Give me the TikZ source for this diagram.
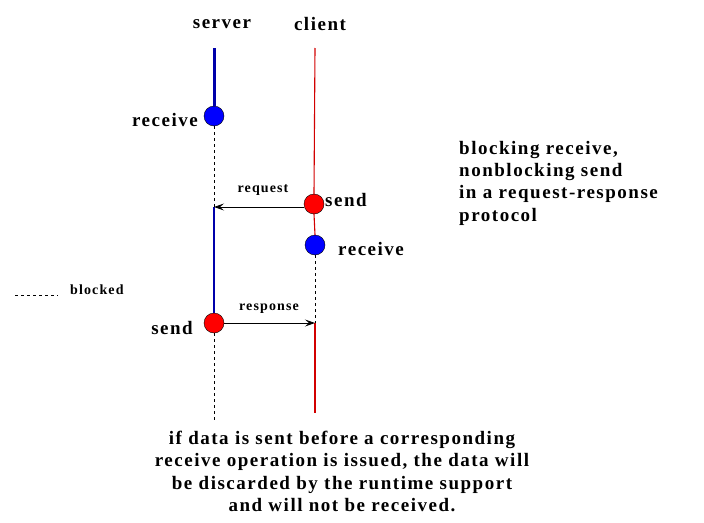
\documentclass[tikz,border=0pt]{standalone}
\usepackage{fontspec}
\setmainfont{Liberation Serif}
\newfontfamily\widefont[LetterSpace=8]{Liberation Serif}
\usetikzlibrary{arrows.meta}
\definecolor{clientred}{RGB}{210,0,0}
\definecolor{servblue}{RGB}{0,0,170}
\begin{document}
\begin{tikzpicture}[x=1pt,y=-1pt,
  lbl/.style={font=\widefont\bfseries\fontsize{19}{22.3}\selectfont, inner sep=0pt},
  small/.style={font=\widefont\bfseries\fontsize{14}{15}\selectfont, inner sep=0pt},
  ev/.style={circle, draw=black, line width=0.4pt, minimum size=20pt, inner sep=0pt},
  blueev/.style={ev, fill=blue},
  redev/.style={ev, fill=red},
  msg/.style={line width=0.9pt, -{Stealth[length=10pt,width=7pt,inset=4pt]}},
  blk/.style={dash pattern=on 3pt off 3pt, line width=0.8pt}]
\useasboundingbox (0,0) rectangle (704,522);
% labels of processes
\node[lbl] (srv) at (222,24) {server};
\node[lbl] (cli) at (320,24) {client};
% events
\node[blueev] (srecv) at (214,116) {};
\node[redev] (csend) at (314,204) {};
\node[blueev] (crecv) at (315,245) {};
\node[redev] (ssend) at (214,323) {};
\coordinate (stop) at (214,48);
\coordinate (ctop) at (315,48);
\coordinate (sreq) at (214,207);
\coordinate (cresp) at (315,323);
\coordinate (sbot) at (214,420);
\coordinate (cbot) at (315,413);
% server line
\draw[servblue, line width=3pt] (stop) -- (srecv.north);
\draw[blk] (srecv.south) -- (sreq);
\draw[servblue, line width=1.1pt] (sreq) -- (ssend.north);
\draw[blk] (ssend.south) -- (sbot);
% client line
\draw[clientred, line width=1.1pt] (ctop) -- (csend.north);
\draw[clientred, line width=1.1pt] (csend.south) -- (crecv.north);
\draw[blk] (crecv.south) -- (cresp);
\draw[clientred, line width=1.1pt] (cresp) -- (cbot);
% messages
\draw[msg] (csend.west |- sreq) -- (sreq);
\draw[msg] (ssend.east) -- (cresp);
\node[small] (lreq) at (263,190) {request};
\node[small] (lresp) at (269,309) {response};
% event labels
\node[lbl, anchor=east] (lsr) at (198,120) {receive};
\node[lbl, anchor=west] (lcs) at (325,200) {send};
\node[lbl, anchor=west] (lcr) at (338,249) {receive};
\node[lbl, anchor=east] (lss) at (193,328) {send};
% legend
\coordinate (lg1) at (15,295);
\coordinate (lg2) at (58,295);
\draw[blk, line width=0.7pt] (lg1) -- (lg2);
\node[small, anchor=west] (lblk) at (70,290) {blocked};
% notes
\node[lbl, anchor=north west, align=left] (note) at (459,141)
  {blocking receive,\\nonblocking send\\in a request-response\\protocol};
\node[lbl, anchor=north, align=center] (bottom) at (342,431)
  {if data is sent before a corresponding\\receive operation is issued, the data will\\be discarded by the runtime support\\and will not be received.};
\end{tikzpicture}
\end{document}
